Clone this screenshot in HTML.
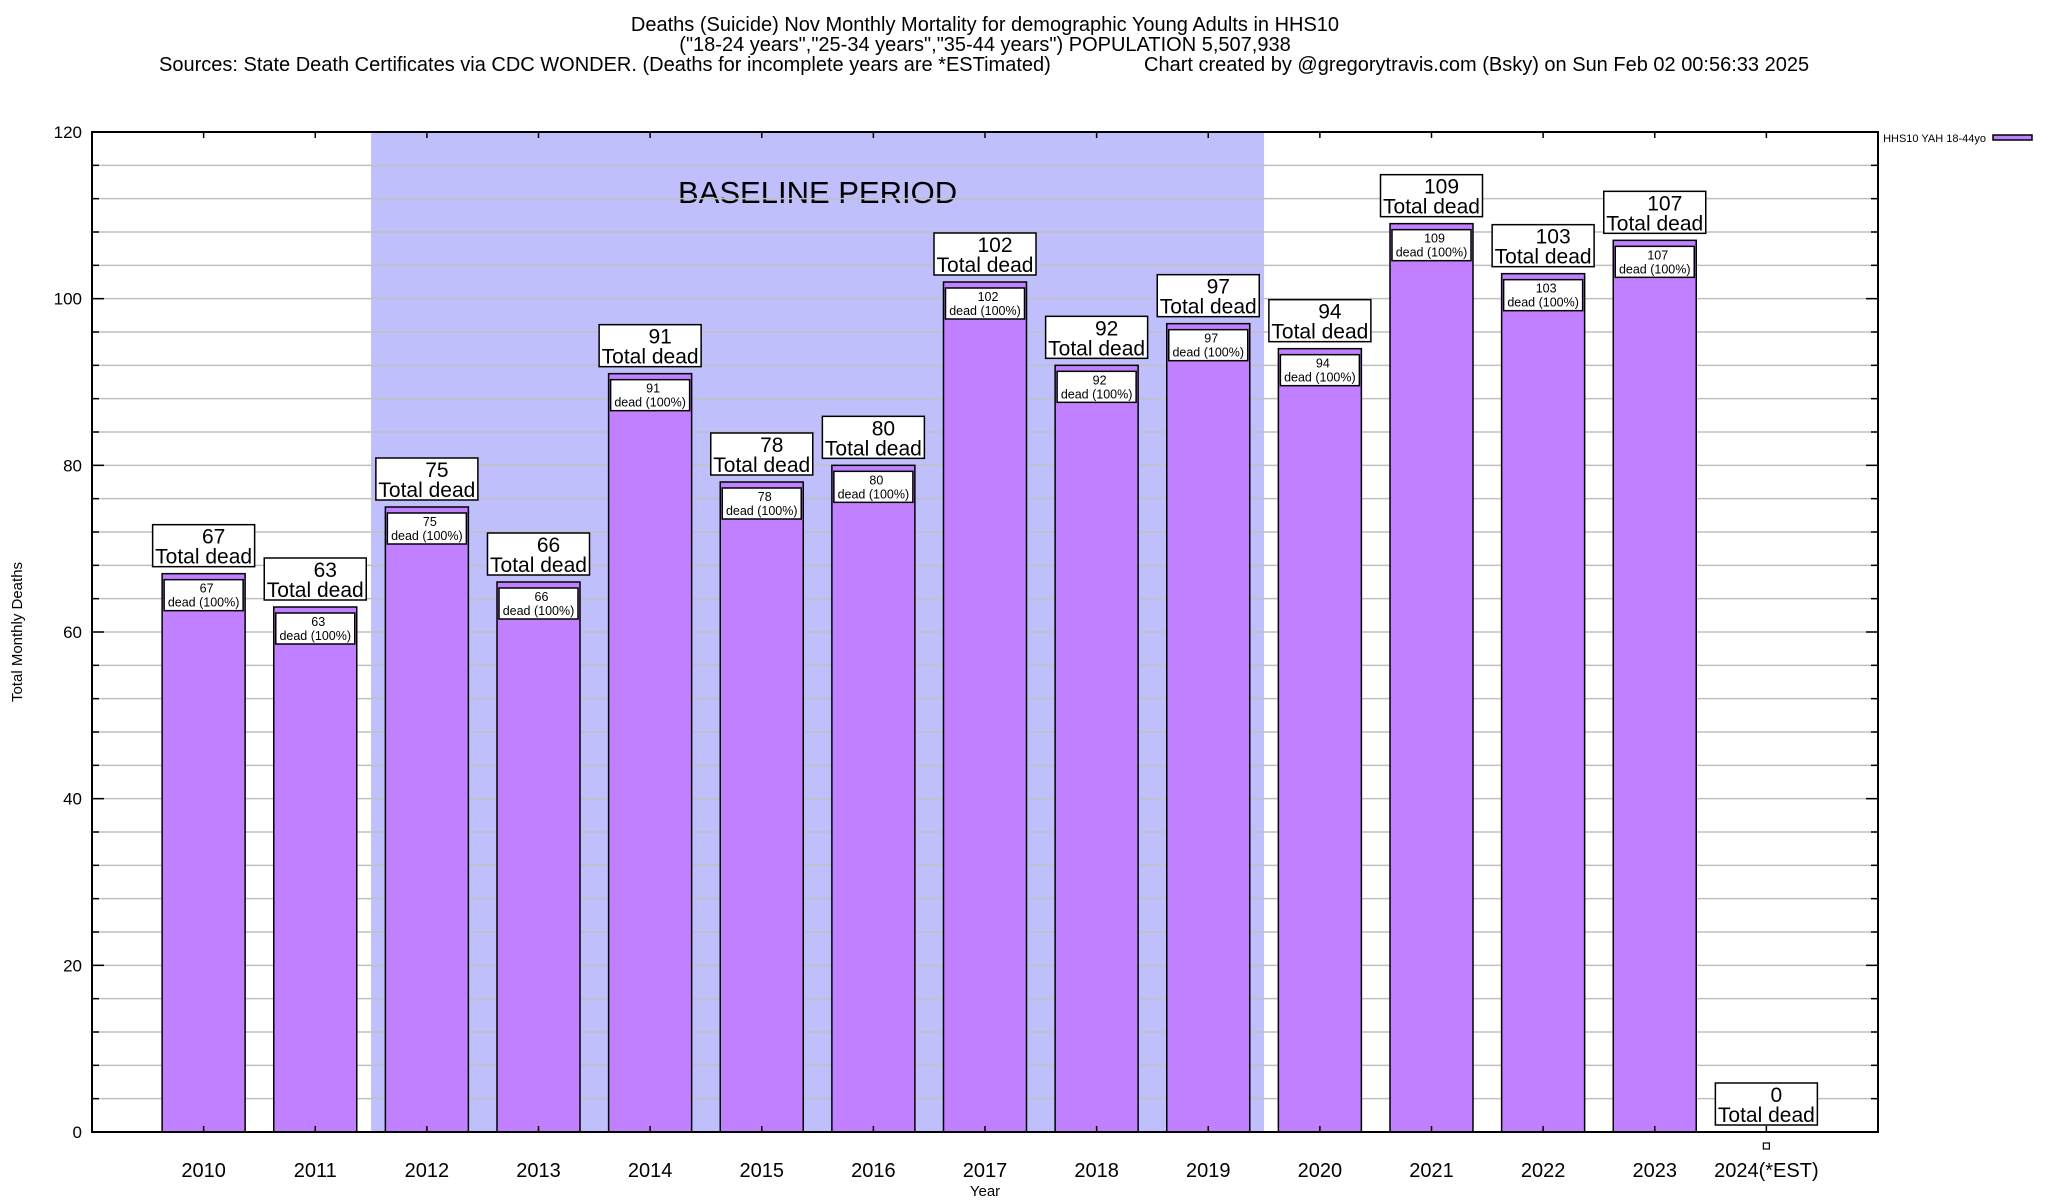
<!DOCTYPE html>
<html><head><meta charset="utf-8">
<style>
html,body{margin:0;padding:0;background:#fff;}
svg{display:block;font-family:"Liberation Sans",Arial,sans-serif;}
</style></head>
<body>
<svg id="chart" width="2048" height="1200" viewBox="0 0 2048 1200" xmlns="http://www.w3.org/2000/svg">
<g>
<text x="985" y="31" font-size="20" text-anchor="middle">Deaths (Suicide) Nov Monthly Mortality for demographic Young Adults in HHS10</text>
<text x="985" y="51" font-size="20" text-anchor="middle">("18-24 years","25-34 years","35-44 years") POPULATION 5,507,938</text>
<text x="159" y="71" font-size="20">Sources: State Death Certificates via CDC WONDER. (Deaths for incomplete years are *ESTimated)</text>
<text x="1144" y="71" font-size="20">Chart created by @gregorytravis.com (Bsky) on Sun Feb 02 00:56:33 2025</text>
</g>
<g id="plot"></g>
</svg>
<script>
const categories = ["2010","2011","2012","2013","2014","2015","2016","2017","2018","2019","2020","2021","2022","2023","2024(*EST)"];
const deaths = [67,63,75,66,91,78,80,102,92,97,94,109,103,107,0];
const yTicks = [0,20,40,60,80,100,120];
const baselineStart = 2; // 2012
const baselineEnd = 9;   // 2019

const NS = "http://www.w3.org/2000/svg";
const L = 92, R = 1878, T = 132, B = 1132;
const yMax = 120;
const step = (R - L) / (categories.length + 1);
function xs(i){ return L + step * (i + 1); }
function ys(v){ return B - (v / yMax) * (B - T); }
const g = document.getElementById('plot');
function el(tag, attrs, parent){
  const e = document.createElementNS(NS, tag);
  for (const k in attrs) e.setAttribute(k, attrs[k]);
  (parent || g).appendChild(e);
  return e;
}
function txt(x, y, s, size, anchor, parent){
  const t = el('text', {x:x, y:y, 'font-size':size, 'text-anchor':anchor||'middle'}, parent);
  t.textContent = s;
  return t;
}

const bx0 = xs(baselineStart) - step/2, bx1 = xs(baselineEnd) + step/2;
const shade = el('rect', {x:bx0, y:T, width:bx1-bx0, height:B-T, fill:'#bfbffc'});


const bl = txt((bx0+bx1)/2, 203, 'BASELINE PERIOD', 31);



for (let v = 4; v < yMax; v += 4) {
  const gl = el('line', {x1:L, x2:R, y1:ys(v), y2:ys(v), stroke:'#c0c0c0', 'stroke-width':1.5});
  
  
  const len = (v % 20 === 0) ? 12 : 7;
  el('line', {x1:L, x2:L+len, y1:ys(v), y2:ys(v), stroke:'#000', 'stroke-width':1.5});
  el('line', {x1:R-len, x2:R, y1:ys(v), y2:ys(v), stroke:'#000', 'stroke-width':1.5});
}
yTicks.forEach(v => {
  const t = txt(L - 10, ys(v) + 6, String(v), 17, 'end');
  
  
});

deaths.forEach((d, i) => {
  const cx = xs(i);
  const bw = 83;
  const grp = el('g', {});
  
  
  const top = ys(d);
  if (d > 0) {
    el('rect', {x:cx-bw/2, y:top, width:bw, height:B-top, fill:'#c080ff', stroke:'#000', 'stroke-width':1.5}, grp);
    const ib = el('rect', {x:cx-bw/2+2, y:top+6, width:bw-4, height:31, fill:'#fff', stroke:'#000', 'stroke-width':1.5}, grp);
    
    
    txt(cx+3, top+19, String(d), 12.5, 'middle', grp);
    txt(cx, top+33, 'dead (100%)', 12.5, 'middle', grp);
  }
  const bb = top - 7;
  const lb = el('rect', {x:cx-51, y:bb-42, width:102, height:42, fill:'#fff', stroke:'#000', 'stroke-width':1.5}, grp);
  
  
  txt(cx+10, bb-23, String(d), 21, 'middle', grp);
  txt(cx, bb-3, 'Total dead', 21, 'middle', grp);
  el('line', {x1:cx, x2:cx, y1:T, y2:T+6, stroke:'#000', 'stroke-width':1.5});
  el('line', {x1:cx, x2:cx, y1:B, y2:B-6, stroke:'#000', 'stroke-width':1.5});
  const xl = txt(cx, 1177, categories[i], 20);
  
  
  if (d === 0) {
    el('rect', {x:cx-3, y:1143, width:6, height:6, fill:'#fff', stroke:'#000', 'stroke-width':1.2});
  }
});

const fr = el('rect', {x:L, y:T, width:R-L, height:B-T, fill:'none', stroke:'#000', 'stroke-width':2});



const xt = txt(985, 1196, 'Year', 15);


const yt = txt(0, 0, 'Total Monthly Deaths', 15);
yt.setAttribute('transform', 'translate(22,632) rotate(-90)');



const lg = el('g', {});


txt(1986, 142, 'HHS10 YAH 18-44yo', 11, 'end', lg);
el('rect', {x:1993, y:135, width:39, height:5, fill:'#c080ff', stroke:'#000', 'stroke-width':1.5}, lg);
</script>
</body></html>
